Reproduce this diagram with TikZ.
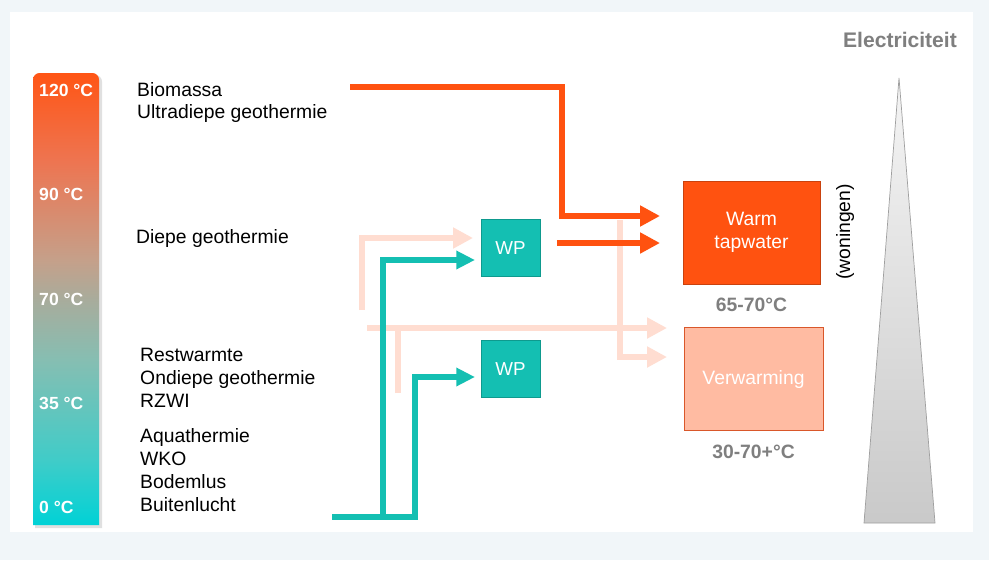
\documentclass[tikz,border=0pt]{standalone}
\usepackage{fontspec}
\setmainfont{Liberation Sans}
\usepackage{tikz}
\usetikzlibrary{arrows.meta,positioning,calc}
\definecolor{hot}{HTML}{FF5210}
\definecolor{hotdark}{HTML}{C9420E}
\definecolor{pale}{HTML}{FFDDD1}
\definecolor{verwfill}{HTML}{FFBBA2}
\definecolor{verwdraw}{HTML}{D9572A}
\definecolor{wpteal}{HTML}{14BFB2}
\definecolor{wptealdark}{HTML}{0E9A8E}
\definecolor{labelgray}{HTML}{7F7F7F}
\definecolor{pagebg}{HTML}{F1F6F9}
% kleuren van de temperatuurschaal
\definecolor{barA}{HTML}{FF5515}
\definecolor{barB}{HTML}{EE7450}
\definecolor{barC}{HTML}{C5A08A}
\definecolor{barD}{HTML}{A8AC9C}
\definecolor{barE}{HTML}{86BEB2}
\definecolor{barF}{HTML}{40CCC8}
\definecolor{barG}{HTML}{00D2D6}
\pgfdeclareverticalshading{tempbar}{100bp}{color(0bp)=(barG); color(25bp)=(barG);
  color(32.2bp)=(barF); color(43.3bp)=(barE); color(49.9bp)=(barD); color(54.3bp)=(barC);
  color(65.4bp)=(barB); color(75bp)=(barA); color(100bp)=(barA)}

\begin{document}
\begin{tikzpicture}[
    x=0.03cm, y=-0.03cm,
    txt/.style={anchor=west, inner sep=0pt, align=left, font=\fontsize{16.5}{19.6}\selectfont},
    temp/.style={anchor=west, inner sep=0pt, text=white, font=\fontsize{15}{17}\selectfont\bfseries},
    wpbox/.style={draw=wptealdark, fill=wpteal, text=white, minimum width=1.77cm, minimum height=1.72cm, font=\fontsize{16}{19}\selectfont},
    grey/.style={text=labelgray, font=\fontsize{16.5}{19}\selectfont\bfseries},
    hotarrow/.style={hot, line width=5pt, -{Triangle[length=17pt, width=17pt]}},
    palearrow/.style={pale, line width=5pt, -{Triangle[length=17pt, width=17pt]}},
    tealarrow/.style={wpteal, line width=4.3pt, -{Triangle[length=16pt, width=15pt]}}
]
\useasboundingbox (0,0) rectangle (989,560);
\fill[pagebg] (0,0) rectangle (989,560);
\fill[white] (10,12) rectangle (973,532);

% temperatuurschaal
\fill[black!12] (35,76) [rounded corners=0.2cm]-- (35,75) -- (102,75) [sharp corners]-- (102,528) -- (35,528) -- cycle;
\shade[shading=tempbar]
    (33,525) [rounded corners=0.2cm]-- (33,73) -- (99,73) [sharp corners]-- (99,525) -- cycle;
\node[temp] (t120) at (39,90) {120 °C};
\node[temp] (t90) at (39,194) {90 °C};
\node[temp] (t70) at (39,299) {70 °C};
\node[temp] (t35) at (39,403) {35 °C};
\node[temp] (t0) at (39,507) {0 °C};

% bronnen
\node[txt] (bio) at (137,102.5) {Biomassa\\Ultradiepe geothermie};
\node[txt] (diep) at (136,238) {Diepe geothermie};
\node[txt] (rest) at (140,377.5) {Restwarmte\\Ondiepe geothermie\\RZWI};
\node[txt] (aqua) at (140,470.5) {Aquathermie\\WKO\\Bodemlus\\Buitenlucht};

% warmtepompen
\node[wpbox] (wp1) at (510.5,248) {WP};
\node[wpbox] (wp2) at (510.5,369) {WP};

% afnemers
\node[fill=hot, draw=hotdark, text=white, minimum width=4.11cm, minimum height=3.09cm, align=center,
      font=\fontsize{16.5}{19.6}\selectfont] (tap) at (751.5,232.5) {Warm\\tapwater};
\node[grey, below=0.3cm of tap] (tapT) {65-70°C};
\node[fill=verwfill, draw=verwdraw, text=white, minimum width=4.17cm, minimum height=3.09cm,
      font=\fontsize{16.5}{19}\selectfont] (verw) at (753.5,379) {Verwarming};
\node[grey, below=0.3cm of verw] (verwT) {30-70+°C};
\node[rotate=90, font=\fontsize{16.5}{19}\selectfont] (won) at (845,232) {(woningen)};

% elektriciteit
\node[grey, font=\fontsize{18}{21}\selectfont\bfseries] (elec) at (900,40) {Electriciteit};
\coordinate (apex) at (899,78);
\shade[top color=gray!8, bottom color=gray!42, draw=gray!75, line width=0.6pt]
    (apex) -- (935,523) -- (864,523) -- cycle;

% aansluitpunten
\coordinate (bio-out) at (350,87);
\coordinate (tap-in1) at (660,216);
\coordinate (tap-in2) at (660,243);
\coordinate (diep-out) at (362,310);
\coordinate (wp1-in1) at (473,238);
\coordinate (wp1-in2) at (475,260);
\coordinate (wp2-in) at (475,377);
\coordinate (rest-out) at (367,328);
\coordinate (rest-low) at (398,393);
\coordinate (verw-in1) at (667,328);
\coordinate (verw-in2) at (667,357);
\coordinate (tap-drop) at (620,220);
\coordinate (aqua-out) at (332,517);
\coordinate (split1) at (383,517);
\coordinate (split2) at (415,517);

% lauwe stromen
\draw[palearrow] (diep-out) |- (wp1-in1);
\draw[palearrow] (rest-out) -- (verw-in1);
\draw[pale, line width=5pt] (rest-low) -- (rest-low |- rest-out);
\draw[palearrow] (tap-drop) |- (verw-in2);

% hoge temperatuur
\draw[hotarrow] (bio-out) -- (562,87) |- (tap-in1);
\draw[hotarrow, shorten <=0.5cm] (wp1.east |- tap-in2) -- (tap-in2);

% lage temperatuur naar WP
\draw[tealarrow] (aqua-out) -- (split2) |- (wp2-in);
\draw[tealarrow] (split1) |- (wp1-in2);

\end{tikzpicture}
\end{document}
